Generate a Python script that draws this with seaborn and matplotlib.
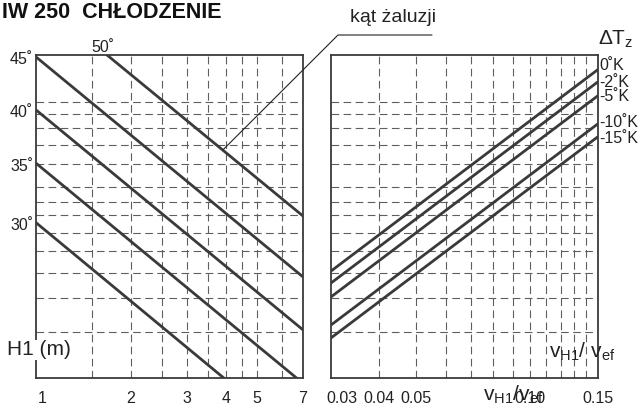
import numpy as np
import pandas as pd
import matplotlib
matplotlib.use("Agg")
import matplotlib.pyplot as plt
import matplotlib.transforms as mtransforms
from matplotlib.lines import Line2D
import seaborn as sns

# ---------------- data ----------------
# left panel: louver angle lines, x = H1 (m, log scale), y = common nomogram scale (0..100)
angle_labels = ["50˚", "45˚", "40˚", "35˚", "30˚"]
angle_x0 = [1.678, 1.0, 1.0, 1.0, 1.0]
angle_y0 = [100.0, 99.4, 83.0, 66.5, 48.1]
angle_x1 = [7.0, 7.0, 7.0, 6.68, 3.93]
angle_y1 = [50.15, 31.3, 14.9, 0.0, 0.0]

# right panel: temperature difference lines, x = vH1/vef (log scale)
dt_labels = ["0˚K", "-2˚K", "-5˚K", "-10˚K", "-15˚K"]
dt_x0 = [0.03, 0.03, 0.03, 0.03, 0.03]
dt_y0 = [33.1, 29.4, 25.1, 16.4, 12.4]
dt_x1 = [0.15, 0.15, 0.15, 0.15, 0.15]
dt_y1 = [95.4, 91.6, 87.3, 78.6, 74.6]

h1_ticks = [1, 2, 3, 4, 5, 7]
h1_tick_labels = ["1", "2", "3", "4", "5", "7"]
h1_grid = [1.5, 2, 2.5, 3, 3.5, 4, 4.5, 5, 6]
h1_range = [1, 7]

v_ticks = [0.03, 0.04, 0.05, 0.10, 0.15]
v_tick_labels = ["0.03", "0.04", "0.05", "0.10", "0.15"]
v_grid = [0.04, 0.05, 0.06, 0.07, 0.08, 0.09, 0.10, 0.11, 0.12, 0.13, 0.14]
v_range = [0.03, 0.15]

y_grid = [85.4, 81.7, 77.4, 72.1, 66.3, 59.1, 54.5, 50.5, 44.9, 39.3, 32.5, 24.8, 14.2]
y_range = [0, 100]

leader_anchor_x = 3.9   # point on the 50° line where the "kąt żaluzji" leader starts

# ---------------- style ----------------
sns.set_theme(style="white")
plt.rcParams["font.family"] = ["Liberation Sans", "DejaVu Sans"]
plt.rcParams["mathtext.fontset"] = "custom"
plt.rcParams["mathtext.rm"] = "Liberation Sans"
plt.rcParams["mathtext.it"] = "Liberation Sans:italic"
plt.rcParams["mathtext.bf"] = "Liberation Sans:bold"
plt.rcParams["lines.scale_dashes"] = False

LINE = "#3a3a3a"
GRID = "#5e5e5e"
SPINE = "#3a3a3a"
TXT = "#222222"
W, H = 642, 411

fig = plt.figure(figsize=(W / 100, H / 100), dpi=100)
axL = fig.add_axes([36 / W, 33 / H, 267 / W, 323 / H])
axR = fig.add_axes([331 / W, 33 / H, 266.5 / W, 323 / H])


def px(dx, dy):
    return mtransforms.ScaledTranslation(dx / 100, dy / 100, fig.dpi_scale_trans)


def make_df(xs0, ys0, xs1, ys1, labels, xname):
    rows = []
    for a, b, c, d, lab in zip(xs0, ys0, xs1, ys1, labels):
        rows.append({xname: a, "y": b, "line": lab})
        rows.append({xname: c, "y": d, "line": lab})
    return pd.DataFrame(rows)


dfL = make_df(angle_x0, angle_y0, angle_x1, angle_y1, angle_labels, "H1")
dfR = make_df(dt_x0, dt_y0, dt_x1, dt_y1, dt_labels, "v")

for ax, xr, xg in [(axL, h1_range, h1_grid), (axR, v_range, v_grid)]:
    ax.set_xscale("log")
    ax.set_xlim(*xr)
    ax.set_ylim(*y_range)
    ax.set_facecolor("white")
    for g in xg:
        ax.axvline(g, color=GRID, lw=0.8, ls=(0, (5.5, 3.2)), zorder=1)
    for g in y_grid:
        ax.axhline(g, color=GRID, lw=0.8, ls=(0, (5.5, 3.2)), zorder=1)
    for s in ax.spines.values():
        s.set_color(SPINE)
        s.set_linewidth(1.3)
        s.set_visible(True)

sns.lineplot(data=dfL, x="H1", y="y", units="line", estimator=None, sort=False,
             color=LINE, lw=2.0, ax=axL, legend=False, zorder=3)
sns.lineplot(data=dfR, x="v", y="y", units="line", estimator=None, sort=False,
             color=LINE, lw=2.0, ax=axR, legend=False, zorder=3)

for ax in (axL, axR):
    ax.set_xscale("log")
    ax.minorticks_off()
    ax.set_xticks([])
    ax.set_yticks([])
    ax.set_xlabel("")
    ax.set_ylabel("")

TICK_FS = 11.5
# x tick labels (drawn as text so individual ones can be nudged like the original)
for t, lab in zip(h1_ticks, h1_tick_labels):
    dx = 6 if t == h1_ticks[0] else 0
    axL.text(t, 0, lab, transform=axL.get_xaxis_transform() + px(dx, -25),
             ha="center", va="baseline", fontsize=TICK_FS, color=TXT)
for t, lab in zip(v_ticks, v_tick_labels):
    dx = 11 if t == v_ticks[0] else 0
    axR.text(t, 0, lab, transform=axR.get_xaxis_transform() + px(dx, -25),
             ha="center", va="baseline", fontsize=TICK_FS, color=TXT)

# angle labels on the left
for lab, x0, y0 in zip(angle_labels, angle_x0, angle_y0):
    if x0 > h1_range[0]:
        axL.text(x0, 1.0, lab, transform=axL.get_xaxis_transform() + px(-4, 3),
                 ha="center", va="baseline", fontsize=TICK_FS, color=TXT)
    else:
        axL.text(0, y0, lab, transform=axL.get_yaxis_transform() + px(-3, -3),
                 ha="right", va="center", fontsize=TICK_FS, color=TXT)

# temperature labels on the right
dt_label_nudge = [4, 0, 0, 1.5, -1.5]
for lab, y1, dy in zip(dt_labels, dt_y1, dt_label_nudge):
    axR.text(1.0, y1, lab, transform=axR.get_yaxis_transform() + px(2, dy),
             ha="left", va="center", fontsize=TICK_FS, color=TXT)

# axis captions
axL.text(0, 0.087, "H1 (m)", transform=axL.transAxes + px(-29, 0),
         ha="left", va="center", fontsize=15, color=TXT, zorder=5,
         bbox=dict(facecolor="white", edgecolor="none", pad=0.5))
axR.text(1.0, 0.08, r"v$_\mathrm{H1}$/ v$_\mathrm{ef}$", transform=axR.transAxes + px(18, 0),
         ha="right", va="center", fontsize=15, color=TXT, zorder=5)
axR.text(0.1, 0, r"v$_\mathrm{H1}$/v$_\mathrm{ef}$",
         transform=axR.get_xaxis_transform() + px(-17, -23),
         ha="center", va="baseline", fontsize=15, color=TXT)

# title and other figure texts
fig.text(221 / W, 1 - 18 / H, "IW 250  CHŁODZENIE", ha="right", va="baseline",
         fontsize=15.5, fontweight="bold", color="#111111")
fig.text(350 / W, 1 - 22 / H, "kąt żaluzji", ha="left", va="baseline",
         fontsize=14, color=TXT)
fig.text(598 / W, 1 - 45 / H, r"ΔT$_\mathrm{z}$", ha="left", va="baseline",
         fontsize=15, color=TXT)

# leader line from the 50° line to the caption
fig.canvas.draw()
t = (np.log10(leader_anchor_x) - np.log10(angle_x0[0])) / (np.log10(angle_x1[0]) - np.log10(angle_x0[0]))
anchor_y = angle_y0[0] + t * (angle_y1[0] - angle_y0[0])
ax_disp = axL.transData.transform((leader_anchor_x, anchor_y))
ax_fig = fig.transFigure.inverted().transform(ax_disp)
fig.add_artist(Line2D([ax_fig[0], 338 / W, 432 / W], [ax_fig[1], 1 - 35 / H, 1 - 35 / H],
                      transform=fig.transFigure, color=TXT, lw=0.8, zorder=6))

fig.savefig("out.png", dpi=100)
